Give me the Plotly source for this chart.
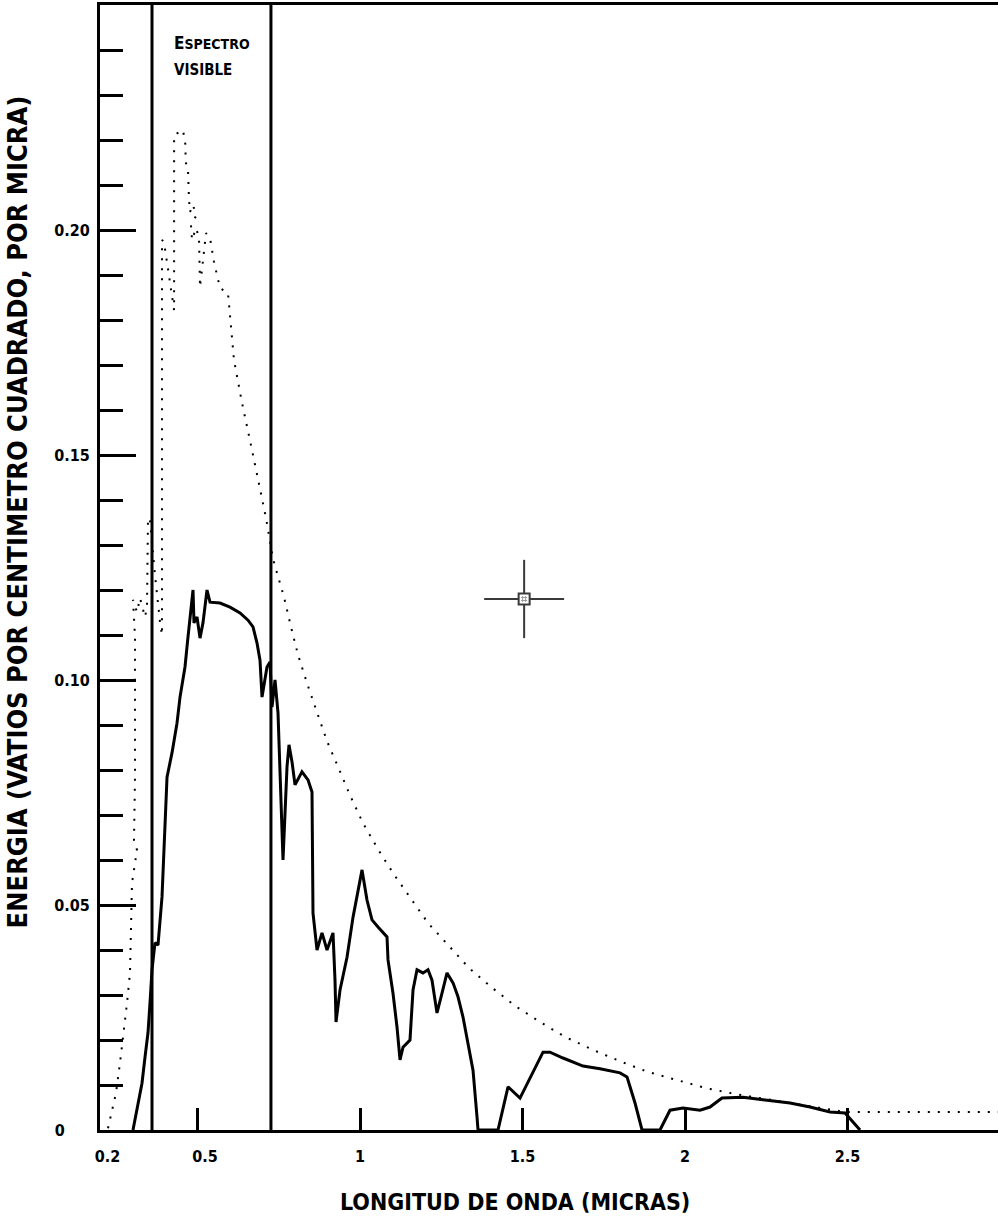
import plotly.graph_objects as go

# ---------------- data ----------------
# Dotted curve: energy outside the atmosphere
DOT_X = [0.2246, 0.2369, 0.2492, 0.2615, 0.2738, 0.2831, 0.2923, 0.2954, 0.2985, 0.3138,
         0.3046, 0.3077, 0.3077, 0.3015, 0.3138, 0.3231, 0.3385, 0.3446, 0.3477, 0.3538,
         0.3692, 0.3846, 0.3908, 0.3908, 0.3969, 0.428, 0.428, 0.4554, 0.4646, 0.4615,
         0.4708, 0.4738, 0.4769, 0.4862, 0.4954, 0.48, 0.4831, 0.4954, 0.5046, 0.5077,
         0.5169, 0.5262, 0.5385, 0.5508, 0.5692, 0.5938, 0.6123, 0.6369, 0.6677, 0.6923,
         0.7108, 0.7323, 0.7477, 0.7662, 0.7877, 0.8092, 0.8369, 0.8677, 0.8985, 0.9354,
         0.9692, 1.0092, 1.0554, 1.1015, 1.1569, 1.2092, 1.2738, 1.3354, 1.4031, 1.4769,
         1.5538, 1.6308, 1.7169, 1.8062, 1.8862, 1.9754, 2.0646, 2.1538, 2.2615, 2.3846,
         2.4923, 2.963]
DOT_Y = [0.0004, 0.004, 0.0082, 0.0149, 0.0222, 0.0282, 0.0349, 0.046, 0.0549, 0.0622,
         0.0644, 0.0784, 0.1096, 0.1178, 0.1151, 0.1182, 0.114, 0.1162, 0.136, 0.1356,
         0.1233, 0.1129, 0.11, 0.1978, 0.1973, 0.1822, 0.2211, 0.2222, 0.2182, 0.2156,
         0.2133, 0.2067, 0.204, 0.2056, 0.2031, 0.2011, 0.1978, 0.2004, 0.1984, 0.1873,
         0.1929, 0.1993, 0.1982, 0.1929, 0.1871, 0.186, 0.1711, 0.1616, 0.1511, 0.1422,
         0.136, 0.1269, 0.1229, 0.1184, 0.1118, 0.1056, 0.0993, 0.0927, 0.0864, 0.0802,
         0.0744, 0.0682, 0.0624, 0.0571, 0.0513, 0.046, 0.0409, 0.036, 0.0318, 0.0276,
         0.024, 0.0207, 0.0178, 0.0151, 0.0129, 0.0111, 0.0093, 0.008, 0.0067, 0.0053,
         0.004, 0.004]

# Solid curve: energy reaching the surface
SOL_X = [0.3015, 0.3138, 0.3292, 0.3385, 0.3477, 0.3538, 0.36, 0.3692, 0.3785, 0.3908,
         0.4, 0.4062, 0.4215, 0.4369, 0.4462, 0.4615, 0.4708, 0.4769, 0.4862, 0.4892,
         0.4985, 0.5077, 0.5169, 0.5292, 0.5385, 0.5692, 0.6, 0.6308, 0.6554, 0.6708,
         0.6831, 0.6923, 0.6985, 0.7138, 0.7231, 0.7292, 0.7385, 0.7477, 0.7538, 0.76,
         0.7631, 0.7754, 0.7815, 0.7908, 0.8, 0.8215, 0.84, 0.8523, 0.8554, 0.8677,
         0.8831, 0.8985, 0.9169, 0.9231, 0.9262, 0.9385, 0.96, 0.9785, 1.0062, 1.0215,
         1.0369, 1.0554, 1.0831, 1.0862, 1.1015, 1.1138, 1.1231, 1.1323, 1.1538, 1.1631,
         1.1754, 1.1938, 1.2092, 1.2215, 1.2369, 1.2523, 1.2677, 1.2862, 1.3015, 1.3169,
         1.3323, 1.3477, 1.36, 1.3631, 1.4246, 1.4554, 1.4923, 1.5323, 1.5631, 1.5846,
         1.6246, 1.6862, 1.7385, 1.8, 1.8215, 1.8308, 1.8462, 1.8677, 1.9231, 1.9538,
         1.9938, 2.0462, 2.0769, 2.1138, 2.1785, 2.24, 2.3231, 2.3846, 2.4462, 2.4923,
         2.5385]
SOL_Y = [0, 0.0044, 0.0104, 0.0162, 0.0216, 0.0282, 0.0356, 0.0416, 0.0411, 0.0518,
         0.0696, 0.0784, 0.0838, 0.0904, 0.0962, 0.1029, 0.1096, 0.114, 0.12, 0.1127,
         0.114, 0.1093, 0.1127, 0.12, 0.1173, 0.1171, 0.1162, 0.1149, 0.1133, 0.1118,
         0.1082, 0.1044, 0.0962, 0.1029, 0.104, 0.094, 0.1, 0.0927, 0.08, 0.0644,
         0.06, 0.0807, 0.0856, 0.0818, 0.0767, 0.0796, 0.0778, 0.0751, 0.0482, 0.04,
         0.0438, 0.04, 0.0438, 0.0333, 0.024, 0.0311, 0.0384, 0.0473, 0.0578, 0.0511,
         0.0467, 0.0451, 0.0429, 0.0378, 0.0304, 0.0229, 0.0156, 0.0184, 0.02, 0.0311,
         0.0356, 0.0349, 0.0356, 0.0333, 0.026, 0.0304, 0.0349, 0.0327, 0.0296, 0.0251,
         0.0193, 0.0133, 0.0029, 0, 0, 0.0096, 0.0071, 0.0127, 0.0173, 0.0173,
         0.016, 0.0142, 0.0136, 0.0127, 0.0118, 0.0096, 0.006, 0, 0, 0.0044,
         0.0049, 0.0044, 0.0051, 0.0071, 0.0073, 0.0067, 0.006, 0.0051, 0.004, 0.0038,
         0]

VISIBLE_BOUNDS = [0.36, 0.726]          # limits of the visible spectrum (micras)

NB = "\u00a0"
X_TICK_VALS = [0.2, 0.5, 1, 1.5, 2, 2.5]
X_TICK_TEXT = [NB * 3 + "0.2", NB * 3 + "0.5", "1", "1.5", "2", "2.5"]
Y_TICK_VALS = [0, 0.05, 0.10, 0.15, 0.20]
Y_TICK_TEXT = ["0" + NB * 5, "0.05", "0.10", "0.15", "0.20"]
Y_MINOR_VALS = [0.01, 0.02, 0.03, 0.04, 0.06, 0.07, 0.08, 0.09, 0.11, 0.12, 0.13, 0.14,
                0.16, 0.17, 0.18, 0.19, 0.21, 0.22, 0.23, 0.24]

X_RANGE = [0.2, 2.963]
Y_RANGE = [0, 0.25]

CROSS_X, CROSS_Y = 1.505, 0.118         # crosshair cursor
CROSS_HALF_W, CROSS_HALF_H = 0.123, 0.0087
CROSS_GAP_W, CROSS_GAP_H = 0.016, 0.0012

X_TITLE = "LONGITUD DE ONDA (MICRAS)"
Y_TITLE = "ENERGIA (VATIOS POR CENTIMETRO CUADRADO, POR MICRA)"

FONT = "DejaVu Sans Condensed, Liberation Sans Narrow, DejaVu Sans, sans-serif"

# ---------------- figure ----------------
fig = go.Figure()

fig.add_trace(go.Scatter(x=DOT_X, y=DOT_Y, mode="lines",
                         line=dict(color="black", width=2, dash="2px,8px"),
                         hoverinfo="skip"))
fig.add_trace(go.Scatter(x=SOL_X, y=SOL_Y, mode="lines",
                         line=dict(color="black", width=3),
                         hoverinfo="skip"))

shapes = []
for xv in VISIBLE_BOUNDS:
    shapes.append(dict(type="line", xref="x", yref="paper", x0=xv, x1=xv, y0=0, y1=1,
                       line=dict(color="black", width=3)))

# crosshair
cross_col = "#3a3a3a"
shapes += [
    dict(type="line", xref="x", yref="y", x0=CROSS_X - CROSS_HALF_W, x1=CROSS_X - CROSS_GAP_W,
         y0=CROSS_Y, y1=CROSS_Y, line=dict(color=cross_col, width=2)),
    dict(type="line", xref="x", yref="y", x0=CROSS_X + CROSS_GAP_W, x1=CROSS_X + CROSS_HALF_W,
         y0=CROSS_Y, y1=CROSS_Y, line=dict(color=cross_col, width=2)),
    dict(type="line", xref="x", yref="y", x0=CROSS_X, x1=CROSS_X,
         y0=CROSS_Y - CROSS_HALF_H, y1=CROSS_Y - CROSS_GAP_H, line=dict(color=cross_col, width=2)),
    dict(type="line", xref="x", yref="y", x0=CROSS_X, x1=CROSS_X,
         y0=CROSS_Y + CROSS_GAP_H, y1=CROSS_Y + CROSS_HALF_H, line=dict(color=cross_col, width=2)),
]
fig.add_trace(go.Scatter(x=[CROSS_X], y=[CROSS_Y], mode="markers",
                         marker=dict(symbol="square-open", size=11, color=cross_col,
                                     line=dict(width=2, color=cross_col)),
                         hoverinfo="skip"))
fig.add_trace(go.Scatter(x=[CROSS_X], y=[CROSS_Y], mode="markers",
                         marker=dict(symbol="hash-open", size=6, color="#9a9a9a",
                                     line=dict(width=1, color="#9a9a9a")),
                         hoverinfo="skip"))

annotations = [
    dict(text="<b>E<span style='font-size:14px'>SPECTRO</span></b>", x=0.4215, y=0.2416,
         xref="x", yref="y", xanchor="left", yanchor="middle", showarrow=False,
         font=dict(family=FONT, size=17, color="black")),
    dict(text="<b><span style='font-size:15px'>VISIBLE</span></b>", x=0.4215, y=0.2356,
         xref="x", yref="y", xanchor="left", yanchor="middle", showarrow=False,
         font=dict(family=FONT, size=15, color="black")),
    dict(text="<b>" + X_TITLE + "</b>", x=0.462, y=-0.064, xref="paper", yref="paper",
         xanchor="center", yanchor="middle", showarrow=False,
         font=dict(family=FONT, size=23, color="black")),
    dict(text="<b>" + Y_TITLE + "</b>", x=-0.0924, y=0.549, xref="paper", yref="paper",
         xanchor="center", yanchor="middle", showarrow=False, textangle=-90,
         font=dict(family=FONT, size=27, color="black")),
]

fig.update_layout(
    width=998, height=1220,
    margin=dict(l=100, r=0, t=5, b=90),
    plot_bgcolor="white", paper_bgcolor="white",
    showlegend=False,
    shapes=shapes, annotations=annotations,
    font=dict(family=FONT, color="black"),
    xaxis=dict(range=X_RANGE, showgrid=False, zeroline=False,
               showline=True, linecolor="black", linewidth=3, mirror=True,
               tickmode="array", tickvals=X_TICK_VALS, ticktext=X_TICK_TEXT,
               ticks="inside", ticklen=22, tickwidth=3, tickcolor="black",
               ticklabelstandoff=10,
               tickfont=dict(family=FONT, size=16, color="black", weight="bold")),
    yaxis=dict(range=Y_RANGE, showgrid=False, zeroline=False,
               showline=True, linecolor="black", linewidth=3,
               tickmode="array", tickvals=Y_TICK_VALS, ticktext=Y_TICK_TEXT,
               ticks="inside", ticklen=36, tickwidth=3, tickcolor="black",
               ticklabelstandoff=4,
               tickfont=dict(family=FONT, size=16, color="black", weight="bold"),
               minor=dict(tickmode="array", tickvals=Y_MINOR_VALS, ticks="inside",
                          ticklen=23, tickwidth=3, tickcolor="black", showgrid=False)),
)

fig.write_html("out.html",
               config={"displayModeBar": False},
               post_script="document.body.style.margin='0px';"
                           "document.body.style.overflow='hidden';")
